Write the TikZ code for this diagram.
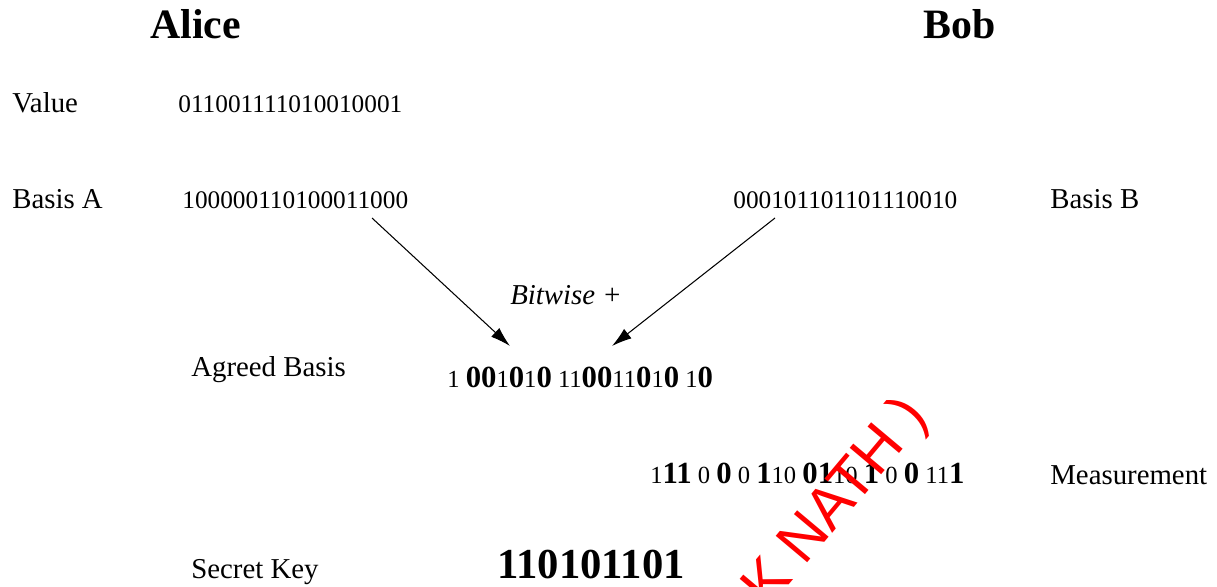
\documentclass[tikz,border=0pt]{standalone}
\usepackage{fontspec}
\setmainfont{Liberation Serif}
\newfontfamily\stampfont{Liberation Sans}
\usetikzlibrary{arrows.meta}
\tikzset{every scope/.style={>={Latex[length=0.4cm,width=0.24cm]}}}
\tikzset{
  party/.style={anchor=base west,inner sep=0pt,font=\fontsize{23.8}{26}\selectfont\bfseries},
  lbl/.style={anchor=base west,inner sep=0pt,font=\fontsize{16.4}{18}\selectfont},
  bits/.style={anchor=base west,inner sep=0pt,font=\fontsize{14.4}{16}\selectfont},
  mixbits/.style={anchor=base west,inner sep=0pt,font=\fontsize{14}{16}\selectfont}
}
% agreed positions are set large and bold
\newcommand{\hit}[1]{{\fontsize{17.5}{18}\selectfont\bfseries #1}}

\begin{document}
\begin{tikzpicture}[x=0.02cm,y=-0.02cm]
      \useasboundingbox (0,0) rectangle (1217,586);
      \clip (0,0) rectangle (1217,586);
      % the two parties
      \node[party] (alice) at (150, 38) {Alice};
      \node[party] (bob)   at (923, 38) {Bob};
      % Alice's value and both bases
      \node[lbl]  (valL)   at (12, 112)  {Value};
      \node[bits] (val)    at (178, 112) {011001111010010001};
      \node[lbl]  (basAL)  at (12, 208)  {Basis A};
      \node[bits] (basA)   at (182, 208) {100000110100011000};
      \node[bits] (basB)   at (733, 208) {000101101101110010};
      \node[lbl]  (basBL)  at (1050, 208) {Basis B};
      \node[lbl,font=\fontsize{16.4}{18}\selectfont\itshape] (xor) at (510, 304) {Bitwise +};
      % comparing the bases
      \node[lbl]     (agrL) at (191, 376) {Agreed Basis};
      \node[mixbits] (agr)  at (447, 387) {1 \hit{00}1\hit{0}1\hit{0} 11\hit{00}11\hit{0}1\hit{0} 1\hit{0}};
      \node[mixbits] (meas) at (650, 483) {1\hit{11} 0 \hit{0} 0 \hit{1}10 \hit{01}10 \hit{1} 0 \hit{0} 11\hit{1}};
      \node[lbl]     (measL) at (1050, 484) {Measurement};
      \node[lbl]     (keyL) at (191, 578) {Secret Key};
      \node[party,font=\fontsize{24.3}{26}\selectfont\bfseries] (key) at (497, 578) {110101101};
      % arrows into the agreed basis
      \coordinate (fromA) at (372, 218);
      \coordinate (fromB) at (775, 218);
      \coordinate (intoA) at (510, 346);
      \coordinate (intoB) at (612, 346);
      \draw[->,line width=0.6pt] (fromA) -- (intoA);
      \draw[->,line width=0.6pt] (fromB) -- (intoB);
      % stamp over the lower part
      \node[anchor=base west,inner sep=0pt,rotate=50,text=red,font=\fontsize{34}{36}\stampfont] (stamp) at (768, 610) {K NATH )};
    \end{tikzpicture}
\end{document}
